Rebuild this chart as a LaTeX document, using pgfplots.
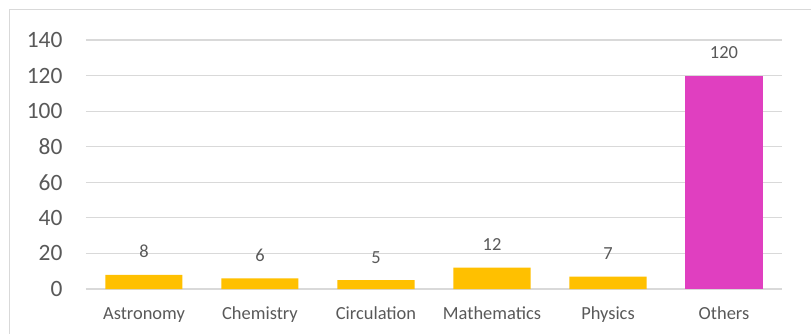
\documentclass[border=0pt]{standalone}
\usepackage{fontspec}
\setmainfont{Carlito}
\usepackage{pgfplots}
\pgfplotsset{compat=1.18}

\definecolor{barGold}{HTML}{FFC000}
\definecolor{barMagenta}{HTML}{E03FC0}
\definecolor{gridGray}{HTML}{D9D9D9}
\definecolor{textGray}{HTML}{595959}

\begin{document}
\begin{tikzpicture}[x=1bp,y=1bp]
\useasboundingbox (-86bp,-45bp) rectangle (725bp,289bp);
\fill[white] (-86bp,-45bp) rectangle (725bp,289bp);
\draw[gridGray, line width=1.2bp] (-76.5bp,-60bp) rectangle (740bp,279.5bp);
\begin{axis}[
  at={(0,0)}, anchor=south west,
  scale only axis,
  width=696bp, height=249bp,
  xmin=-0.5, xmax=5.5,
  ymin=0, ymax=140,
  ytick={0,20,...,140},
  xtick={0,1,2,3,4,5},
  xticklabels={Astronomy,Chemistry,Circulation,Mathematics,Physics,Others},
  ybar,
  bar width=77bp,
  axis line style={draw=none},
  major tick length=0pt,
  ymajorgrids,
  grid style={gridGray, line width=1.2bp},
  /pgf/number format/assume math mode=true,
  yticklabel style={font=\fontsize{23.5}{26}\selectfont, text=textGray, anchor=east, xshift=-20bp},
  xticklabel style={font=\fontsize{18.5}{21}\selectfont, text=textGray, anchor=base, yshift=-30bp},
  nodes near coords,
  every node near coord/.append style={font=\fontsize{18.5}{21}\selectfont, text=textGray, inner sep=0pt, yshift=16.5bp},
  clip=false,
]
\addplot[fill=barGold, draw=none, bar shift=0pt] coordinates {(0,8) (1,6) (2,5) (3,12) (4,7)};
\addplot[fill=barMagenta, draw=none, bar shift=0pt] coordinates {(5,120)};
\end{axis}
\end{tikzpicture}
\end{document}
